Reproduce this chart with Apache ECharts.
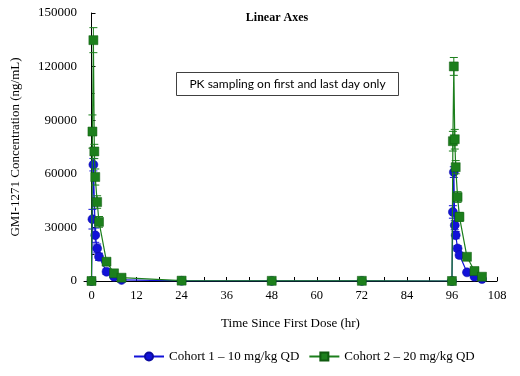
<!DOCTYPE html>
<html>
<head>
<meta charset="utf-8">
<script src="https://cdn.jsdelivr.net/npm/echarts@6/dist/echarts.min.js"></script>
<style>html,body{margin:0;padding:0;background:#fff}#main{width:520px;height:376px}</style>
</head>
<body>
<div id="main"></div>
<script>
// sampling times (hr) and mean concentrations (ng/mL)
var blueTimes = [0, 0.25, 0.5, 1, 1.5, 2, 4, 6, 8, 24, 48, 72, 96, 96.25, 96.5, 96.75, 97, 97.5, 98, 100, 102, 104];
var blueConc  = [0, 34600, 65100, 25650, 18200, 13550, 5200, 2400, 600, 100, 50, 50, 0, 38650, 60950, 31200, 25650, 18240, 14500, 4850, 2400, 1100];
var blueSd    = [0, 5500, 3500, 4000, 2500, 2000, 1500, 800, 400, 0, 0, 0, 0, 3500, 3000, 2500, 2000, 1500, 1500, 600, 400, 200];

var greenTimes = [0, 0.25, 0.5, 0.75, 1, 1.5, 2, 4, 6, 8, 24, 48, 72, 96, 96.25, 96.5, 96.75, 97, 97.5, 98, 100, 102, 104];
var greenConc  = [0, 83650, 134800, 72500, 58200, 44200, 33100, 10800, 4300, 1850, 200, 100, 100, 0, 78250, 120100, 79350, 63700, 47000, 35900, 13550, 5600, 2400];
var greenSd    = [0, 9300, 7000, 4000, 4500, 3500, 3000, 1500, 800, 400, 0, 0, 0, 0, 5500, 5000, 5500, 3700, 3000, 2500, 1000, 600, 300];

var xLabels = [0, 12, 24, 36, 48, 60, 72, 84, 96, 108];
var xTicks = [0, 6, 12, 18, 24, 30, 36, 42, 48, 54, 60, 66, 72, 78, 84, 90, 96, 102, 108];

var blueName = 'Cohort 1 \u2013 10 mg/kg QD';
var greenName = 'Cohort 2 \u2013 20 mg/kg QD';
var blueColor = '#1212d8';
var greenColor = '#1c7f1c';

function pairs(t, v) {
    var out = [];
    for (var i = 0; i < t.length; i++) out.push([t[i], v[i]]);
    return out;
}
function errs(t, v, sd) {
    var out = [];
    for (var i = 0; i < t.length; i++) {
        if (sd[i] > 0) out.push([t[i], v[i] - sd[i], v[i] + sd[i]]);
    }
    return out;
}
function errRender(color) {
    return function (params, api) {
        var x = api.value(0);
        var lo = api.coord([x, api.value(1)]);
        var hi = api.coord([x, api.value(2)]);
        var w = 4;
        var st = { stroke: color, lineWidth: 1 };
        return {
            type: 'group',
            children: [
                { type: 'line', shape: { x1: hi[0], y1: hi[1], x2: lo[0], y2: lo[1] }, style: st },
                { type: 'line', shape: { x1: hi[0] - w, y1: hi[1], x2: hi[0] + w, y2: hi[1] }, style: st },
                { type: 'line', shape: { x1: lo[0] - w, y1: lo[1], x2: lo[0] + w, y2: lo[1] }, style: st }
            ]
        };
    };
}

var serif = 'Liberation Serif';
var chart = echarts.init(document.getElementById('main'));
var option = {
    animation: false,
    backgroundColor: '#fff',
    title: {
        text: 'Linear Axes',
        left: 272, top: 7, textAlign: 'center',
        textStyle: { fontFamily: serif, fontSize: 12, fontWeight: 'bold', color: '#000' }
    },
    grid: { left: 84, right: 23, top: 13, bottom: 95 },
    legend: {
        data: [blueName, greenName],
        top: 345, left: 128,
        itemWidth: 30, itemHeight: 10, itemGap: 9,
        textStyle: { fontFamily: serif, fontSize: 13, color: '#000' }
    },
    xAxis: {
        type: 'value', min: -2, max: 108,
        name: 'Time Since First Dose (hr)', nameLocation: 'middle', nameGap: 36,
        nameTextStyle: { fontFamily: serif, fontSize: 13, color: '#000' },
        axisLine: { onZero: false, lineStyle: { color: '#000', width: 1 } },
        axisTick: { inside: true, length: 4, customValues: xTicks, lineStyle: { color: '#000' } },
        axisLabel: { customValues: xLabels, fontFamily: serif, fontSize: 12.5, color: '#000', margin: 8 },
        splitLine: { show: false }
    },
    yAxis: {
        type: 'value', min: 0, max: 150000, interval: 30000,
        name: 'GMI-1271 Concentration (ng/mL)', nameLocation: 'middle', nameGap: 62,
        nameTextStyle: { fontFamily: serif, fontSize: 13, color: '#000' },
        axisLine: { show: true, lineStyle: { color: '#000', width: 1 } },
        axisTick: { show: true, inside: true, length: 4, lineStyle: { color: '#000' } },
        minorTick: { show: true, splitNumber: 2, length: 3, lineStyle: { color: '#000' } },
        axisLabel: {
            fontFamily: serif, fontSize: 13, color: '#000', margin: 7,
            formatter: function (v) { return String(v); }
        },
        splitLine: { show: false }
    },
    graphic: [{
        type: 'group', left: 176, top: 72,
        children: [
            { type: 'rect', shape: { x: 0, y: 0, width: 222, height: 23 },
              style: { fill: '#fff', stroke: '#404040', lineWidth: 1 } },
            { type: 'text', x: 111, y: 12,
              style: { text: 'PK sampling on first and last day only', fill: '#000',
                       font: '12px Lato', textAlign: 'center', textVerticalAlign: 'middle' } }
        ]
    }],
    series: [
        {
            type: 'custom', name: 'blueErr', renderItem: errRender(blueColor),
            data: errs(blueTimes, blueConc, blueSd), z: 2
        },
        {
            type: 'line', name: blueName, data: pairs(blueTimes, blueConc),
            symbol: 'circle', symbolSize: 9,
            itemStyle: { color: blueColor, borderColor: '#0a0aa0', borderWidth: 0.5 },
            lineStyle: { color: blueColor, width: 1.2 }, z: 3
        },
        {
            type: 'custom', name: 'greenErr', renderItem: errRender(greenColor),
            data: errs(greenTimes, greenConc, greenSd), z: 4
        },
        {
            type: 'line', name: greenName, data: pairs(greenTimes, greenConc),
            symbol: 'rect', symbolSize: 9,
            itemStyle: { color: greenColor, borderColor: '#0f5a0f', borderWidth: 0.5 },
            lineStyle: { color: greenColor, width: 1.2 }, z: 5
        }
    ]
};
chart.setOption(option);
</script>
</body>
</html>
